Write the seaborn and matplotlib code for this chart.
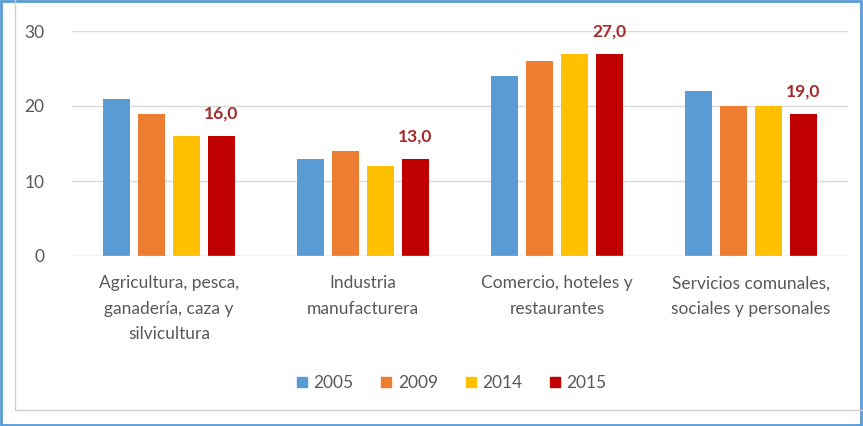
import pandas as pd
import matplotlib.pyplot as plt
import seaborn as sns
from matplotlib.patches import Rectangle
from matplotlib.lines import Line2D

# Data
categories = ['Agricultura, pesca,\nganadería, caza y\nsilvicultura',
              'Industria\nmanufacturera',
              'Comercio, hoteles y\nrestaurantes',
              'Servicios comunales,\nsociales y personales']
years = ['2005', '2009', '2014', '2015']
v2005 = [21, 13, 24, 22]
v2009 = [19, 14, 26, 20]
v2014 = [16, 12, 27, 20]
v2015 = [16, 13, 27, 19]
colors = ['#5B9BD5', '#ED7D31', '#FFC000', '#C00000']

rows = []
for year, vals in zip(years, [v2005, v2009, v2014, v2015]):
    for cat, v in zip(categories, vals):
        rows.append({'sector': cat, 'year': year, 'value': v})
df = pd.DataFrame(rows)

sns.set_style('white')
plt.rcParams['font.family'] = ['Lato', 'DejaVu Sans']

fig = plt.figure(figsize=(8.63, 4.26), dpi=100)
ax = fig.add_axes([72 / 863, 170 / 426, 776 / 863, 225 / 426])

sns.barplot(data=df, x='sector', y='value', hue='year', palette=colors,
            width=0.72, gap=0.22, saturation=1, linewidth=0, ax=ax, legend=False)

ax.set_ylim(0, 30)
ax.set_xlim(-0.5, 3.5)
ax.set_yticks([0, 10, 20, 30])
ax.yaxis.grid(True, color='#D9D9D9', lw=1)
ax.set_axisbelow(True)
for s in ax.spines.values():
    s.set_visible(False)
ax.set_xlabel('')
ax.set_ylabel('')
ax.tick_params(axis='y', colors='#595959', labelsize=12.5, length=0, pad=20)
ax.tick_params(axis='x', colors='#595959', labelsize=12.5, length=0, pad=14)
for lbl in ax.get_xticklabels():
    lbl.set_linespacing(1.7)
ax.axhline(0, color='#D9D9D9', lw=1)

# value labels above 2015 bars
for i, v in enumerate(v2015):
    ax.annotate(f'{v},0', xy=(i + 0.27, v), xytext=(0, 16), textcoords='offset points',
                ha='center', va='center', fontsize=12.5, fontweight='bold', color='#A52A2A')

handles = [Line2D([], [], marker='s', ls='', markersize=7.5, color=c) for c in colors]
fig.legend(handles, years, loc='center', bbox_to_anchor=(450 / 863, 1 - 383 / 426),
           ncol=4, frameon=False, fontsize=12.5, labelcolor='#595959',
           handletextpad=0.15, columnspacing=1.4, handlelength=1.0)

# chart frame lines
fig.add_artist(Line2D([15 / 863, 15 / 863], [1 - 410 / 426, 1], color='#D0D0D0', lw=1))
fig.add_artist(Line2D([15 / 863, 1], [1 - 410 / 426, 1 - 410 / 426], color='#D0D0D0', lw=1))
fig.add_artist(Rectangle((0.001, 0.002), 0.997, 0.995, transform=fig.transFigure,
                         fill=False, edgecolor='#5B9BD5', lw=2))

fig.savefig('out.png', dpi=100)
